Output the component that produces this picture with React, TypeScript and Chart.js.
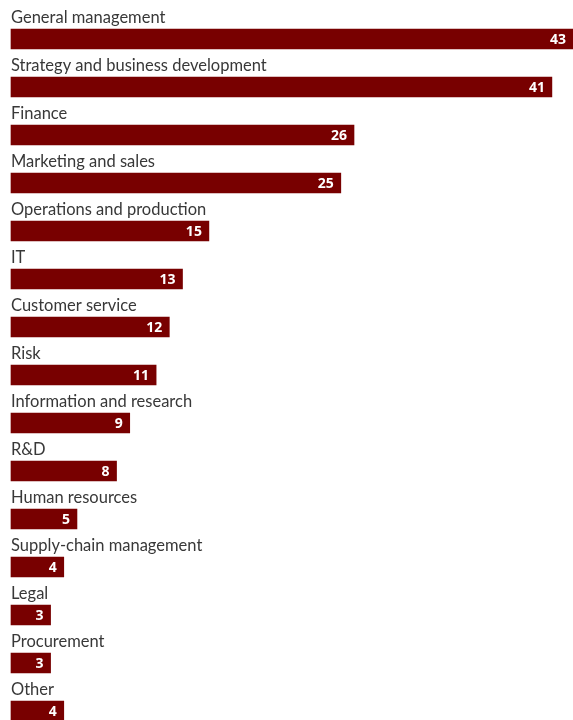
import React, { useEffect, useRef } from "react";
import { Chart, registerables } from "chart.js";

Chart.register(...registerables);

const categories = [
  "General management",
  "Strategy and business development",
  "Finance",
  "Marketing and sales",
  "Operations and production",
  "IT",
  "Customer service",
  "Risk",
  "Information and research",
  "R&D",
  "Human resources",
  "Supply-chain management",
  "Legal",
  "Procurement",
  "Other",
];
const values = [43, 41, 26, 25, 15, 13, 12, 11, 9, 8, 5, 4, 3, 3, 4];

const BAR_COLOR = "#780000";
const TEXT_COLOR = "#383838";
const LABEL_FONT = 'Lato, "Noto Sans", sans-serif';
const VALUE_FONT = '"Noto Sans", sans-serif';

const labelPlugin = {
  id: "rowLabels",
  afterDatasetsDraw(chart: any) {
    const ctx = chart.ctx;
    const meta = chart.getDatasetMeta(0);
    ctx.save();
    meta.data.forEach((bar: any, i: number) => {
      const h = bar.height;
      ctx.font = `16.5px ${LABEL_FONT}`;
      ctx.fillStyle = TEXT_COLOR;
      ctx.textAlign = "left";
      ctx.textBaseline = "alphabetic";
      ctx.fillText(categories[i], chart.chartArea.left, bar.y - h / 2 - 6);
      ctx.font = `bold 14px ${VALUE_FONT}`;
      ctx.fillStyle = "#ffffff";
      ctx.textAlign = "right";
      ctx.textBaseline = "middle";
      const right = Math.min(bar.x, chart.width);
      ctx.fillText(String(values[i]), right - 7, bar.y + 1);
    });
    ctx.restore();
  },
};

export default function App() {
  const ref = useRef<HTMLCanvasElement>(null);
  useEffect(() => {
    document.body.style.margin = "0";
    const chart = new Chart(ref.current!, {
      type: "bar",
      data: {
        labels: categories,
        datasets: [
          {
            data: values,
            backgroundColor: BAR_COLOR,
            borderWidth: 0,
            barThickness: 20,
            clip: false as any,
          },
        ],
      },
      options: {
        indexAxis: "y",
        animation: false,
        responsive: false,
        maintainAspectRatio: false,
        layout: { padding: { left: 11, right: 0, top: 39, bottom: 9 } },
        plugins: {
          legend: { display: false },
          tooltip: { enabled: false },
        },
        scales: {
          x: { display: false, min: 0, max: 42.6 },
          y: { display: false, offset: false },
        },
      },
      plugins: [labelPlugin],
    });
    return () => chart.destroy();
  }, []);
  return (
    <div style={{ position: "fixed", left: 0, top: 0, width: 573, height: 720, background: "#fff" }}>
      <canvas ref={ref} width={573} height={720} style={{ width: 573, height: 720, display: "block" }} />
    </div>
  );
}
